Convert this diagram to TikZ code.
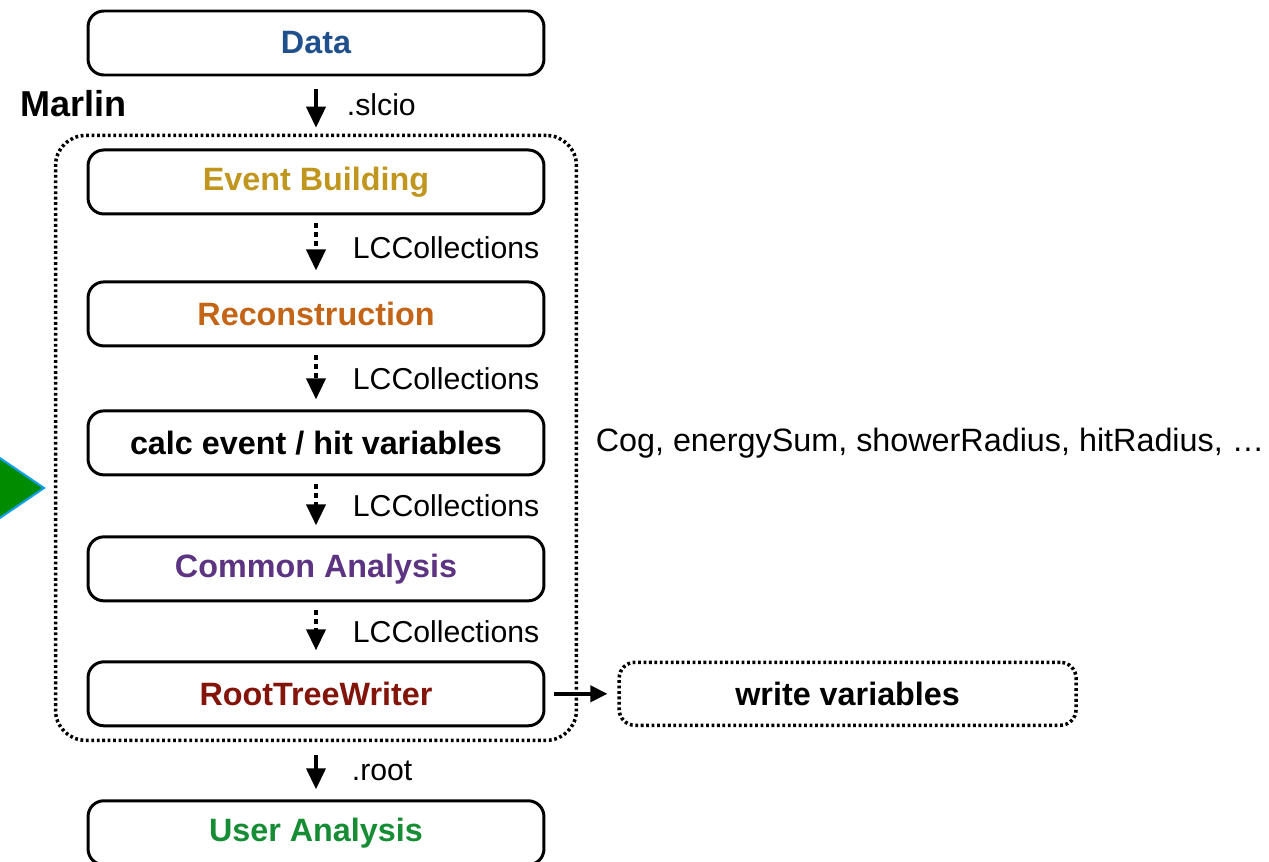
\documentclass[tikz,border=0pt]{standalone}
\usepackage{fontspec}
\setmainfont{Liberation Sans}
\usetikzlibrary{arrows.meta,positioning,fit}

\definecolor{dataBlue}{RGB}{31,80,140}
\definecolor{evtGold}{RGB}{192,150,30}
\definecolor{recoOrange}{RGB}{196,100,22}
\definecolor{anaPurple}{RGB}{92,52,130}
\definecolor{rootRed}{RGB}{130,20,10}
\definecolor{userGreen}{RGB}{22,140,52}
\definecolor{playGreen}{RGB}{0,140,0}
\definecolor{playBlue}{RGB}{20,160,230}

\begin{document}
\begin{tikzpicture}[
    x=0.02cm, y=-0.02cm,
    node distance=1.24cm and 1.44cm,
    proc/.style={draw, line width=1.7pt, rounded corners=9pt, fill=white,
                 minimum width=9.12cm, minimum height=1.28cm,
                 font=\fontsize{18.4}{21}\selectfont\bfseries},
    dotbox/.style={draw, line width=2pt, dash pattern=on 1.6pt off 1.5pt,
                   rounded corners=9pt},
    flow/.style={-{Triangle[length=0.42cm,width=0.38cm]}, line width=2.2pt},
    dotflow/.style={flow, dash pattern=on 2.6pt off 2.4pt},
    lbl/.style={font=\fontsize{17.2}{20}\selectfont, right, inner sep=0pt}
]
\useasboundingbox (0,0) rectangle (1269,862);

% play mark
\filldraw[fill=playGreen, draw=playBlue, line width=1.2pt]
    (-40,431) -- (44,488) -- (-40,545) -- cycle;

\node[proc, text=dataBlue] (data) at (316,43) {Data};
\node[proc, text=evtGold, below=1.44cm of data] (evt) {Event Building};
\node[proc, text=recoOrange, below=1.3cm of evt] (reco) {Reconstruction};
\node[proc, below=of reco] (calc) {calc event / hit variables};
\node[proc, text=anaPurple, below=1.18cm of calc] (ana) {Common Analysis};
\node[proc, text=rootRed, below=1.16cm of ana] (rtw) {RootTreeWriter};
\node[proc, text=userGreen, below=1.44cm of rtw] (user) {User Analysis};

\node[dotbox, fit=(evt) (rtw), inner xsep=0.62cm, inner ysep=0.26cm,
      rounded corners=0.6cm] (marlin) {};
\node[font=\fontsize{20.5}{24}\selectfont\bfseries, anchor=west] (mname)
    at (14,104) {Marlin};

\node[proc, dotbox, font=\fontsize{18.4}{21}\selectfont\bfseries,
      minimum width=9.14cm, minimum height=1.26cm, line width=2pt,
      right=of rtw] (wvar) {write variables};

\node[font=\fontsize{18.4}{21}\selectfont, right=1cm of calc, inner sep=0pt]
    (vars) {Cog, energySum, showerRadius, hitRadius, …};

\draw[flow, shorten <=0.26cm, shorten >=0.12cm] (data) -- node[lbl, xshift=0.58cm] {.slcio} (marlin.north -| data);
\draw[dotflow, shorten <=0.16cm, shorten >=0.2cm] (evt) -- node[lbl, xshift=0.7cm] {LCCollections} (reco);
\draw[dotflow, shorten <=0.16cm, shorten >=0.2cm] (reco) -- node[lbl, xshift=0.7cm] {LCCollections} (calc);
\draw[dotflow, shorten <=0.16cm, shorten >=0.2cm] (calc) -- node[lbl, xshift=0.7cm] {LCCollections} (ana);
\draw[dotflow, shorten <=0.16cm, shorten >=0.2cm] (ana) -- node[lbl, xshift=0.7cm] {LCCollections} (rtw);
\draw[flow, shorten <=0.26cm, shorten >=0.2cm] (marlin.south -| rtw) -- node[lbl, xshift=0.68cm] {.root} (user);
\draw[-{Triangle[length=0.34cm,width=0.32cm]}, line width=2.2pt,
      shorten <=0.18cm, shorten >=0.2cm] (rtw) -- (wvar);
\end{tikzpicture}
\end{document}
